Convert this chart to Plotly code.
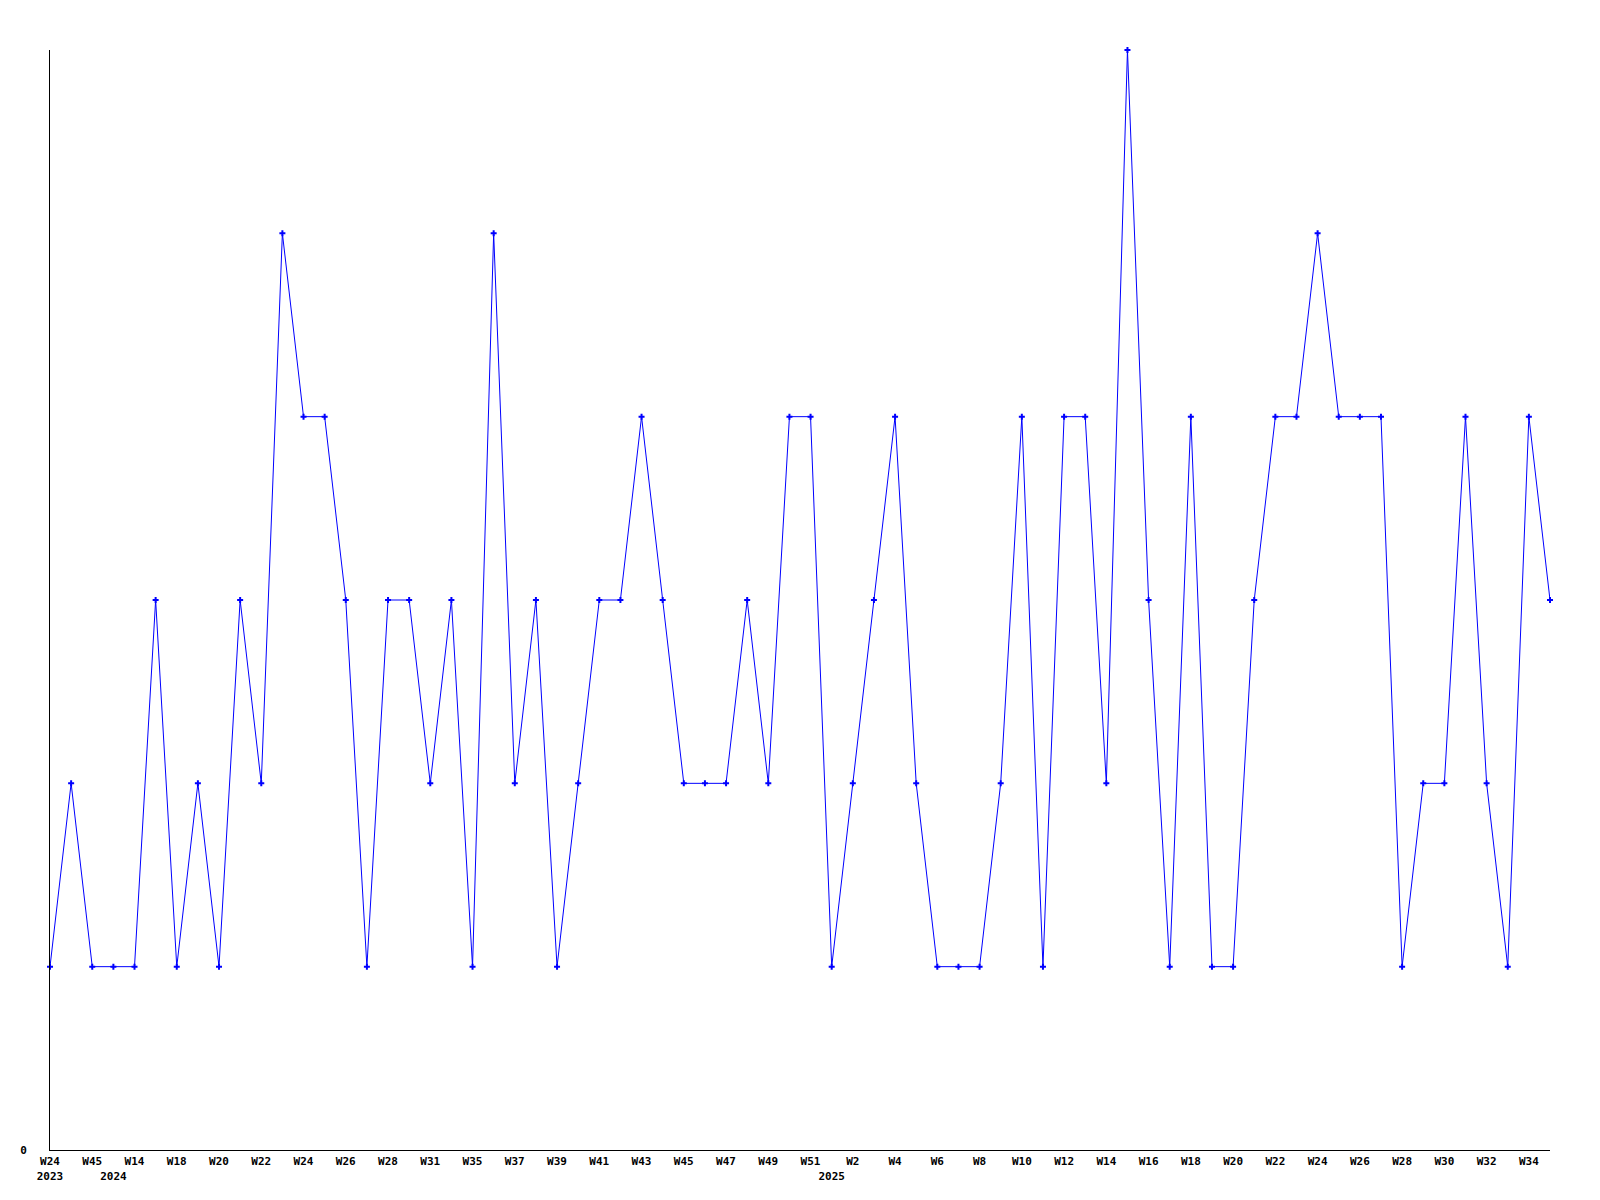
import plotly.graph_objects as go

weeks = [
    "2023-W24", "2023-W30", "2023-W45", "2024-W12", "2024-W14", "2024-W16", "2024-W18", "2024-W19",
    "2024-W20", "2024-W21", "2024-W22", "2024-W23", "2024-W24", "2024-W25", "2024-W26", "2024-W27",
    "2024-W28", "2024-W30", "2024-W31", "2024-W33", "2024-W35", "2024-W36", "2024-W37", "2024-W38",
    "2024-W39", "2024-W40", "2024-W41", "2024-W42", "2024-W43", "2024-W44", "2024-W45", "2024-W46",
    "2024-W47", "2024-W48", "2024-W49", "2024-W50", "2024-W51", "2025-W1", "2025-W2", "2025-W3",
    "2025-W4", "2025-W5", "2025-W6", "2025-W7", "2025-W8", "2025-W9", "2025-W10", "2025-W11",
    "2025-W12", "2025-W13", "2025-W14", "2025-W15", "2025-W16", "2025-W17", "2025-W18", "2025-W19",
    "2025-W20", "2025-W21", "2025-W22", "2025-W23", "2025-W24", "2025-W25", "2025-W26", "2025-W27",
    "2025-W28", "2025-W29", "2025-W30", "2025-W31", "2025-W32", "2025-W33", "2025-W34", "2025-W35",
]

counts = [
    1, 2, 1, 1, 1, 3, 1, 2, 1, 3, 2, 5, 4, 4, 3, 1,
    3, 3, 2, 3, 1, 5, 2, 3, 1, 2, 3, 3, 4, 3, 2, 2,
    2, 3, 2, 4, 4, 1, 2, 3, 4, 2, 1, 1, 1, 2, 4, 1,
    4, 4, 2, 6, 3, 1, 4, 1, 1, 3, 4, 4, 5, 4, 4, 4,
    1, 2, 2, 4, 2, 1, 4, 3,
]

# tick labels: every second week, plus year labels at first week of each year
tick_vals = []
tick_text = []
seen_years = set()
for i, w in enumerate(weeks):
    year, wk = w.split("-")
    first_of_year = year not in seen_years
    seen_years.add(year)
    if i % 2 == 0 and i < len(weeks) - 1:
        tick_vals.append(w)
        tick_text.append(wk + ("<br>" + year if first_of_year else ""))
    elif first_of_year:
        tick_vals.append(w)
        tick_text.append("&nbsp;<br>" + year)

fig = go.Figure()
fig.add_trace(go.Scatter(
    x=weeks, y=counts, mode="lines+markers",
    line=dict(color="#0000ff", width=1),
    marker=dict(symbol="cross", size=5, color="#0000ff", line=dict(width=0)),
    cliponaxis=False,
))

font = dict(family="DejaVu Sans Mono", size=11, color="black", weight="bold")

fig.update_layout(
    width=1600, height=1200,
    margin=dict(l=50, r=50, t=50, b=50),
    paper_bgcolor="white", plot_bgcolor="white",
    showlegend=False,
    font=font,
    xaxis=dict(
        type="category", range=[0, len(weeks) - 1],
        tickmode="array", tickvals=tick_vals, ticktext=tick_text,
        showgrid=False, zeroline=False, showline=True, linecolor="black", linewidth=1,
        ticks="", tickangle=0, tickfont=font, ticklabelstandoff=1,
    ),
    yaxis=dict(
        range=[0, 6], tickmode="array", tickvals=[0], ticktext=["0"],
        showgrid=False, zeroline=False, showline=True, linecolor="black", linewidth=1,
        ticks="", ticklabelstandoff=20, tickfont=font,
    ),
)

fig.write_html("out.html", config={"displayModeBar": False},
               post_script="document.body.style.margin='0';")
